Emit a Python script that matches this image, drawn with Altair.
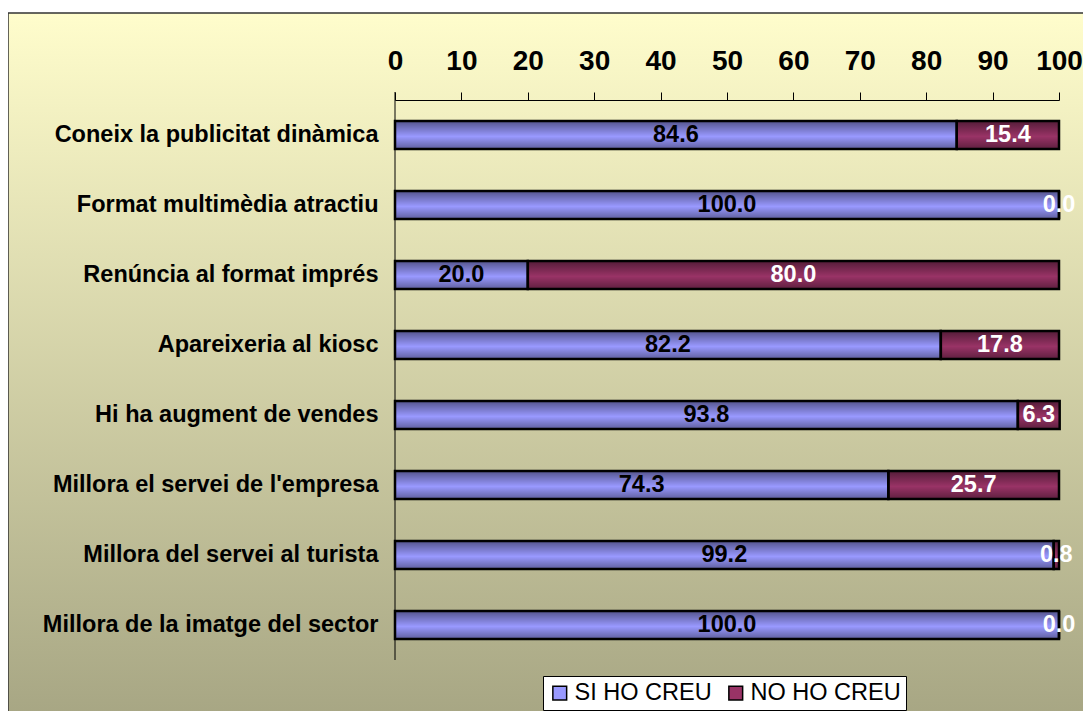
import altair as alt
import pandas as pd

categories = [
    "Coneix la publicitat dinàmica",
    "Format multimèdia atractiu",
    "Renúncia al format imprés",
    "Apareixeria al kiosc",
    "Hi ha augment de vendes",
    "Millora el servei de l'empresa",
    "Millora del servei al turista",
    "Millora de la imatge del sector",
]
si_values = [84.6, 100.0, 20.0, 82.2, 93.8, 74.3, 99.2, 100.0]
no_values = [15.4, 0.0, 80.0, 17.8, 6.3, 25.7, 0.8, 0.0]
series = ["SI HO CREU", "NO HO CREU"]
series_colors = ["#9999FF", "#993366"]
x_ticks = [0, 10, 20, 30, 40, 50, 60, 70, 80, 90, 100]

rows = []
for c, s, n in zip(categories, si_values, no_values):
    rows.append({"cat": c, "series": series[0], "value": s, "ord": 0})
    rows.append({"cat": c, "series": series[1], "value": n, "ord": 1})
df = pd.DataFrame(rows)

W, H = 664, 560
PL, PT, PR, PB = 387, 92, 24, 51
FONT = "Liberation Sans"

x_axis = alt.Axis(
    orient="top", values=x_ticks, grid=False, title=None,
    labelFont=FONT, labelFontSize=28, labelFontWeight="bold", labelColor="black",
    labelPadding=17, tickSize=8, tickColor="black", domainColor="black",
    labelFlush=False, zindex=1,
)
y_axis = alt.Axis(
    title=None, ticks=False, domain=False, labelFont=FONT, labelFontSize=23.5,
    labelFontWeight="bold", labelColor="black", labelPadding=17, labelLimit=1000,
    zindex=1,
)
x_scale = alt.Scale(domain=[0, 100], nice=False, zero=True)
y_enc = alt.Y("cat:N", sort=categories,
              scale=alt.Scale(paddingInner=0.6, paddingOuter=0.3), axis=y_axis)

base = alt.Chart(df).transform_stack(
    stack="value", groupby=["cat"], as_=["v0", "v1"], sort=[alt.SortField("ord")]
).transform_calculate(mid="(datum.v0 + datum.v1) / 2")

bg_grad = alt.LinearGradient(
    gradient="linear", x1=0, y1=0, x2=0, y2=1,
    stops=[alt.GradientStop(color="#FFFDCC", offset=0),
           alt.GradientStop(color="#A4A381", offset=1)],
)
background = alt.Chart(pd.DataFrame({"a": [0]})).mark_rect(
    fill=bg_grad, stroke="#333333", strokeWidth=1.5
).encode(
    x=alt.value(-PL), x2=alt.value(W + PR + 20),
    y=alt.value(-PT + 5), y2=alt.value(H + PB + 30),
)

bars = base.mark_bar().encode(
    x=alt.X("v0:Q", scale=x_scale, axis=x_axis),
    x2="v1:Q",
    y=y_enc,
    color=alt.Color(
        "series:N", scale=alt.Scale(domain=series, range=series_colors),
        legend=alt.Legend(
            title=None, orient="none", legendX=148, legendY=576,
            direction="horizontal", fillColor="white", strokeColor="black",
            padding=5, symbolType="square", symbolSize=190,
            symbolStrokeColor="black", symbolStrokeWidth=1.5,
            labelFont=FONT, labelFontSize=23.5, labelColor="black",
            labelOffset=3, columnPadding=12, zindex=1,
        ),
    ),
)

shade_grad = alt.LinearGradient(
    gradient="linear", x1=0, y1=0, x2=0, y2=1,
    stops=[alt.GradientStop(color="rgba(0,0,0,0.45)", offset=0),
           alt.GradientStop(color="rgba(0,0,0,0)", offset=0.55),
           alt.GradientStop(color="rgba(0,0,0,0.38)", offset=1)],
)
shade = base.mark_bar(fill=shade_grad, stroke="black", strokeWidth=2.5).encode(
    x=alt.X("v0:Q", scale=x_scale, axis=x_axis),
    x2="v1:Q",
    y=y_enc,
)

si_text = base.transform_filter(alt.datum.ord == 0).mark_text(
    font=FONT, fontSize=23.5, fontWeight="bold", color="black"
).encode(
    x=alt.X("mid:Q", scale=x_scale, axis=x_axis),
    y=y_enc,
    text=alt.Text("value:Q", format=".1f"),
)
no_text = base.transform_filter(alt.datum.ord == 1).mark_text(
    font=FONT, fontSize=23.5, fontWeight="bold", color="white"
).encode(
    x=alt.X("mid:Q", scale=x_scale, axis=x_axis),
    y=y_enc,
    text=alt.Text("value:Q", format=".1f"),
)

y_line = alt.Chart(pd.DataFrame({"a": [0]})).mark_rule(color="black", strokeWidth=1).encode(
    x=alt.value(0), y=alt.value(-8), y2=alt.value(H),
)

chart = alt.layer(background, bars, shade, si_text, no_text, y_line).properties(
    width=W, height=H,
    padding={"left": PL, "top": PT, "right": PR, "bottom": PB},
    autosize=alt.AutoSizeParams(type="none"),
).configure_view(stroke=None)

chart.save("out.html", embed_options={"renderer": "svg", "actions": False})
